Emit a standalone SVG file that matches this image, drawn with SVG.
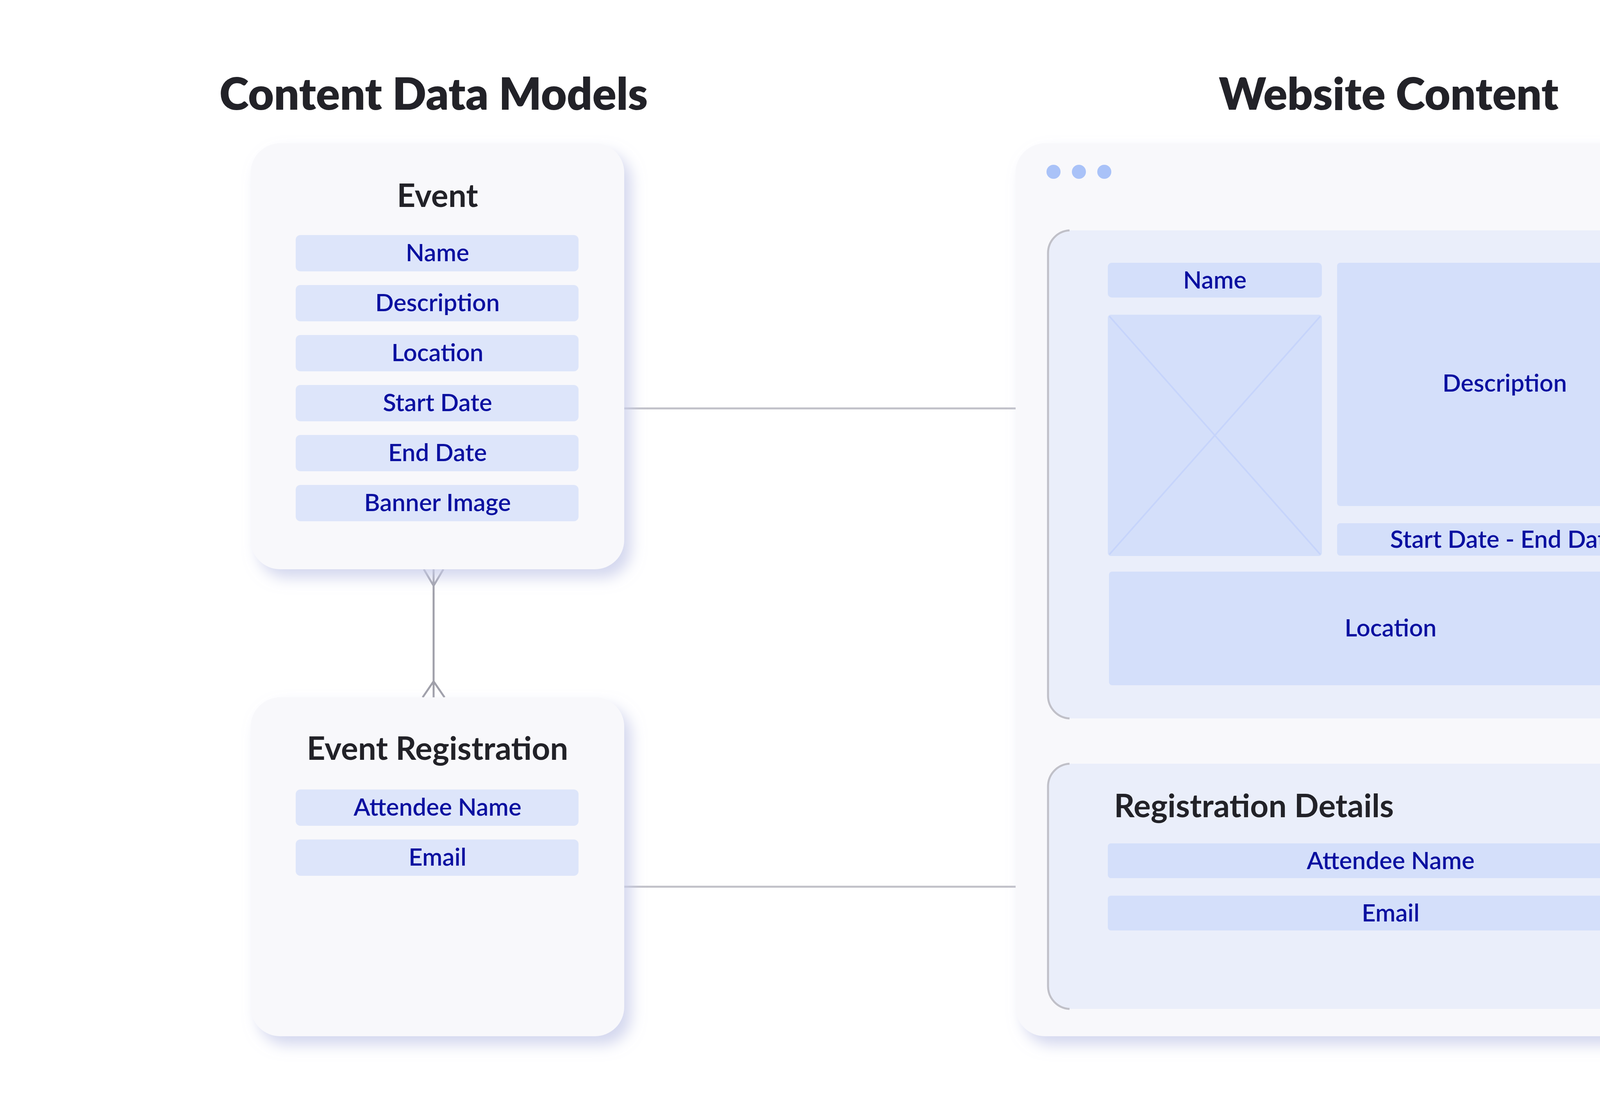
<svg xmlns="http://www.w3.org/2000/svg" width="5000" height="2848" viewBox="0 0 5000 2848">
<defs>
<filter id="sh" x="-10%" y="-10%" width="125%" height="125%"><feDropShadow dx="18" dy="22" stdDeviation="18" flood-color="#c9cdea" flood-opacity="0.8"/></filter>
<style>
.card{fill:#f8f8fb;filter:url(#sh)}
.bar{fill:#dde5fa}
.wbar{fill:#d4dffa}
.ft{font-family:Lato,"Noto Sans",sans-serif;font-weight:600;font-size:62px;fill:#0a10a0;text-anchor:middle}
.h{font-family:Lato,"Noto Sans",sans-serif;font-weight:700;font-size:82px;fill:#222228}
.big{font-family:Lato,"Noto Sans",sans-serif;font-weight:800;font-size:114px;fill:#222228;text-anchor:middle}
.ln{stroke:#c0c0c8;stroke-width:5;fill:none}
.cf{stroke:#a0a0aa;stroke-width:5;fill:none}
.panel{fill:#eaeefa}
</style>
</defs>
<rect width="5000" height="2848" fill="#fff"/>
<text class="big" x="1110" y="281">Content Data Models</text>
<text class="big" x="3555" y="281">Website Content</text>
<g id="connectors">
<path class="ln" d="M1598 1046H2683M1598 2271H2683"/>
<path class="cf" d="M1110 1458V1786M1085 1458L1110 1500L1135 1458M1082 1786L1110 1745L1138 1786"/>
</g>
<g id="event">
<rect class="card" x="642" y="367" width="956" height="1091" rx="75"/>
<text class="h" x="1120" y="530" text-anchor="middle">Event</text>
<rect class="bar" x="757" y="602" width="724" height="93" rx="12"/><text class="ft" x="1120" y="669">Name</text>
<rect class="bar" x="757" y="730" width="724" height="93" rx="12"/><text class="ft" x="1120" y="797">Description</text>
<rect class="bar" x="757" y="858" width="724" height="93" rx="12"/><text class="ft" x="1120" y="925">Location</text>
<rect class="bar" x="757" y="986" width="724" height="93" rx="12"/><text class="ft" x="1120" y="1053">Start Date</text>
<rect class="bar" x="757" y="1114" width="724" height="93" rx="12"/><text class="ft" x="1120" y="1181">End Date</text>
<rect class="bar" x="757" y="1242" width="724" height="93" rx="12"/><text class="ft" x="1120" y="1309">Banner Image</text>
</g>
<g id="registration">
<rect class="card" x="642" y="1786" width="956" height="868" rx="75"/>
<text class="h" x="1120" y="1946" text-anchor="middle">Event Registration</text>
<rect class="bar" x="757" y="2022" width="724" height="93" rx="12"/><text class="ft" x="1120" y="2089">Attendee Name</text>
<rect class="bar" x="757" y="2150" width="724" height="93" rx="12"/><text class="ft" x="1120" y="2217">Email</text>
</g>
<g id="website">
<rect class="card" x="2600" y="367" width="1885" height="2287" rx="75"/>
<circle cx="2697" cy="440" r="18" fill="#a9c2f8"/><circle cx="2762" cy="440" r="18" fill="#a9c2f8"/><circle cx="2827" cy="440" r="18" fill="#a9c2f8"/>
</g>
<g id="event-page">
<rect class="panel" x="2680" y="590" width="1722" height="1250" rx="60"/>
<path class="ln" d="M2738 590A58 58 0 0 0 2683 648V1782A58 58 0 0 0 2738 1840"/>
<rect class="wbar" x="2836" y="673" width="548" height="89" rx="10"/><text class="ft" x="3110" y="739">Name</text>
<rect class="wbar" x="2836" y="806" width="548" height="618" rx="8"/>
<path d="M2840 810L3380 1420M3380 810L2840 1420" stroke="#c6d4fb" stroke-width="4"/>
<rect class="wbar" x="3423" y="673" width="858" height="623" rx="8"/><text class="ft" x="3852" y="1003">Description</text>
<rect class="wbar" x="3423" y="1340" width="858" height="83" rx="8"/><text class="ft" x="3852" y="1403">Start Date - End Date</text>
<rect class="wbar" x="2839" y="1464" width="1442" height="291" rx="8"/><text class="ft" x="3560" y="1630">Location</text>
</g>
<g id="registration-details">
<rect class="panel" x="2680" y="1956" width="1722" height="628" rx="60"/>
<path class="ln" d="M2738 1956A58 58 0 0 0 2683 2014V2526A58 58 0 0 0 2738 2584"/>
<text class="h" x="2852" y="2093">Registration Details</text>
<rect class="wbar" x="2836" y="2160" width="1445" height="89" rx="8"/><text class="ft" x="3560" y="2226">Attendee Name</text>
<rect class="wbar" x="2836" y="2294" width="1445" height="89" rx="8"/><text class="ft" x="3560" y="2360">Email</text>
</g>
</svg>
